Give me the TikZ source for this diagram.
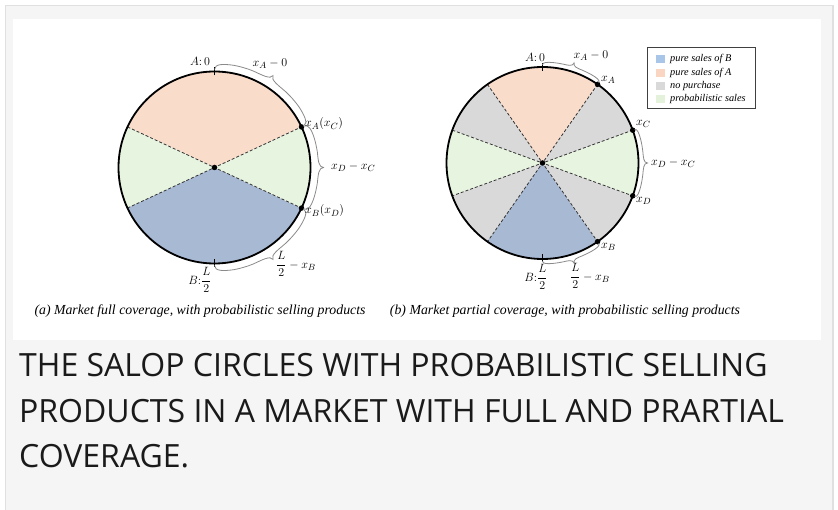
\documentclass[tikz,border=0pt]{standalone}
\usepackage{amsmath}
\usepackage{fontspec}
\usetikzlibrary{calc}
\newfontfamily\capfont{Open Sans}
\newfontfamily\tnr{Liberation Serif}
\definecolor{cpink}{HTML}{FADCCB}
\definecolor{cgreen}{HTML}{E7F4E0}
\definecolor{cblue}{HTML}{A8B9D4}
\definecolor{cgray}{HTML}{D9D9D9}
\definecolor{lblue}{HTML}{A9C5E8}
\definecolor{lpink}{HTML}{F9D5C2}
\definecolor{lgray}{HTML}{D9D9D9}
\definecolor{lgreen}{HTML}{E4F2DC}
\definecolor{cardbg}{HTML}{F5F5F5}
\definecolor{cardline}{HTML}{E0E0E0}
\definecolor{bracecol}{HTML}{8A8A8A}
\definecolor{captext}{HTML}{1A1A1A}
\tikzset{
  bracestyle/.style={draw=bracecol, line width=0.8pt},
  rim/.style={draw=black, line width=1.8pt},
  divider/.style={draw=black!80, line width=0.8pt, dash pattern=on 3pt off 2pt},
  ticker/.style={draw=black, line width=1.2pt},
  lbl/.style={inner sep=0pt, font=\fontsize{12.5}{14}\selectfont},
  subcap/.style={inner sep=0pt, font=\tnr\itshape\fontsize{13.8}{15}\selectfont},
  legtext/.style={inner sep=0pt, anchor=west, font=\tnr\itshape\fontsize{10.3}{12}\selectfont},
  bigcap/.style={inner sep=0pt, anchor=base west, text=captext, font=\capfont\fontsize{32}{45}\selectfont},
  dotmark/.style={circle, fill=black, inner sep=0pt, minimum size=5.5pt}
}
\newcommand{\sector}[5]{%
  \fill[#5, shift={(#1)}] (0,0) -- (#2:#4) arc[start angle=#2, end angle=#3, radius=#4] -- cycle;}
\newcommand{\brc}[6]{%
 \pgfmathsetmacro\brD{(#3-(#2))/12}%
 \pgfmathsetmacro\brM{(#2+#3)/2}%
 \pgfmathsetmacro\brA{#2+\brD}%
 \pgfmathsetmacro\brB{#2+2*\brD}%
 \pgfmathsetmacro\brC{\brM-2*\brD}%
 \pgfmathsetmacro\brE{\brM-\brD}%
 \pgfmathsetmacro\brF{\brM+\brD}%
 \pgfmathsetmacro\brG{\brM+2*\brD}%
 \pgfmathsetmacro\brH{#3-2*\brD}%
 \pgfmathsetmacro\brI{#3-\brD}%
 \pgfmathsetmacro\brRa{#4+#5}%
 \pgfmathsetmacro\brRb{#4+#5+#6}%
 \pgfmathsetmacro\brRs{#4+2}%
 \draw[bracestyle, shift={(#1)}] (#2:\brRs) .. controls (#2:\brRa) and (\brA:\brRa) .. (\brB:\brRa)
   arc[start angle=\brB, end angle=\brC, radius=\brRa]
   .. controls (\brE:\brRa) and (\brM:\brRa) .. (\brM:\brRb)
   .. controls (\brM:\brRa) and (\brF:\brRa) .. (\brG:\brRa)
   arc[start angle=\brG, end angle=\brH, radius=\brRa]
   .. controls (\brI:\brRa) and (#3:\brRa) .. (#3:\brRs);}
\begin{document}
\begin{tikzpicture}[x=1pt,y=1pt]
\useasboundingbox (0,0) rectangle (838,-510);
\fill[white] (0,0) rectangle (838,-510);
\filldraw[fill=cardbg, draw=cardline, line width=1.2pt] (5.5,-5.5) rectangle (833,-530);
\fill[white] (13,-19) rectangle (821,-340);

% ---------- circle (a) ----------
\coordinate (ca) at (214.5,-167.5);
\sector{ca}{25}{155}{96}{cpink}
\sector{ca}{155}{205}{96}{cgreen}
\sector{ca}{205}{335}{96}{cblue}
\sector{ca}{-25}{25}{96}{cgreen}
\coordinate (aul) at ($(ca)+(155:96)$);
\coordinate (all) at ($(ca)+(205:96)$);
\coordinate (aur) at ($(ca)+(25:96)$);
\coordinate (alr) at ($(ca)+(-25:96)$);
\draw[divider] (aul) -- (alr);
\draw[divider] (all) -- (aur);
\draw[rim] (ca) circle[radius=96];
\draw[ticker] ($(ca)+(0,92)$) -- ($(ca)+(0,100)$);
\draw[ticker] ($(ca)+(0,-92)$) -- ($(ca)+(0,-100)$);
\node[dotmark] (a0) at (ca) {};
\node[dotmark] (axa) at (aur) {};
\node[dotmark] (axb) at (alr) {};
\brc{ca}{90}{25}{96}{8}{5}
\brc{ca}{25}{-25}{96}{8}{5}
\brc{ca}{270}{335}{96}{8}{5}
\node[lbl] (aA) at (200,-61) {$A{:}\,0$};
\node[lbl] (aXA) at (270,-64) {$x_A-0$};
\node[lbl, anchor=west] (aXAC) at (305,-124) {$x_A(x_C)$};
\node[lbl, anchor=west] (aDC) at (331,-167) {$x_D-x_C$};
\node[lbl, anchor=west] (aXBD) at (305,-211) {$x_B(x_D)$};
\node[lbl, anchor=west] (aLB) at (276,-264) {$\dfrac{L}{2}-x_B$};
\node[lbl] (aB) at (200,-280) {$B{:}\dfrac{L}{2}$};

% ---------- circle (b) ----------
\coordinate (cb) at (542.5,-163);
\sector{cb}{55}{125}{96}{cpink}
\sector{cb}{125}{160}{96}{cgray}
\sector{cb}{160}{200}{96}{cgreen}
\sector{cb}{200}{235}{96}{cgray}
\sector{cb}{235}{305}{96}{cblue}
\sector{cb}{305}{340}{96}{cgray}
\sector{cb}{-20}{20}{96}{cgreen}
\sector{cb}{20}{55}{96}{cgray}
\foreach \ang/\nm in {55/b55,125/b125,160/b160,200/b200,235/b235,305/b305,340/b340,20/b20}
  \coordinate (\nm) at ($(cb)+(\ang:96)$);
\draw[divider] (b55) -- (b235);
\draw[divider] (b125) -- (b305);
\draw[divider] (b20) -- (b200);
\draw[divider] (b160) -- (b340);
\draw[rim] (cb) circle[radius=96];
\draw[ticker] ($(cb)+(0,92)$) -- ($(cb)+(0,100)$);
\draw[ticker] ($(cb)+(0,-91)$) -- ($(cb)+(0,-99)$);
\node[dotmark] (b0) at (cb) {};
\node[dotmark] (bxa) at (b55) {};
\node[dotmark] (bxc) at (b20) {};
\node[dotmark] (bxd) at (b340) {};
\node[dotmark] (bxb) at (b305) {};
\brc{cb}{90}{55}{96}{5}{4}
\brc{cb}{20}{-20}{96}{5}{4}
\brc{cb}{270}{305}{96}{5}{4}
\node[lbl] (bA) at (535,-57) {$A{:}\,0$};
\node[lbl] (bXA0) at (591,-56) {$x_A-0$};
\node[lbl, anchor=west] (bXA) at (601,-80) {$x_A$};
\node[lbl, anchor=west] (bXC) at (636,-124) {$x_C$};
\node[lbl, anchor=west] (bDC) at (651,-163) {$x_D-x_C$};
\node[lbl, anchor=west] (bXD) at (636,-201) {$x_D$};
\node[lbl, anchor=west] (bXB) at (601,-247) {$x_B$};
\node[lbl] (bB) at (536,-277) {$B{:}\dfrac{L}{2}$};
\node[lbl] (bLB) at (590,-276) {$\dfrac{L}{2}-x_B$};

% ---------- legend ----------
\draw[draw=black!75, line width=0.9pt, fill=white] (647,-47) rectangle (755,-108);
\fill[lblue] (656,-55) rectangle (665,-63);
\fill[lpink] (656,-69) rectangle (665,-77);
\fill[lgray] (656,-82) rectangle (665,-90);
\fill[lgreen] (656,-95) rectangle (665,-103);
\node[legtext] (l1) at (670,-59) {pure sales of B};
\node[legtext] (l2) at (670,-73) {pure sales of A};
\node[legtext] (l3) at (670,-86) {no purchase};
\node[legtext] (l4) at (670,-99) {probabilistic sales};

% ---------- sub captions ----------
\node[subcap] (capa) at (200,-311) {(a) Market full coverage, with probabilistic selling products};
\node[subcap] (capb) at (565,-311) {(b) Market partial coverage, with probabilistic selling products};

% ---------- main caption ----------
\node[bigcap] (t1) at (19,-377) {THE SALOP CIRCLES WITH PROBABILISTIC SELLING};
\node[bigcap] (t2) at (19,-422) {PRODUCTS IN A MARKET WITH FULL AND PRARTIAL};
\node[bigcap] (t3) at (19,-467) {COVERAGE.};
\end{tikzpicture}
\end{document}
